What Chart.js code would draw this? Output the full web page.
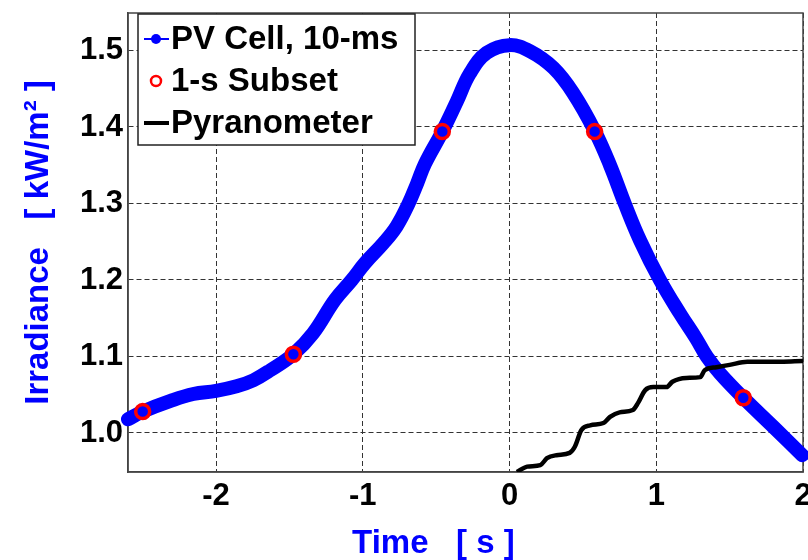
<!DOCTYPE html>
<html>
<head>
<meta charset="utf-8">
<script src="https://cdn.jsdelivr.net/npm/chart.js@4/dist/chart.umd.min.js"></script>
<style>
  html, body { margin: 0; padding: 0; background: #fff; }
  #wrap { width: 808px; height: 560px; }
</style>
</head>
<body>
<div id="wrap"><canvas id="chart" width="808" height="560"></canvas></div>
<script>
// PV cell, 10-ms samples
const pvTime = [-2.60, -2.50, -2.31, -2.155, -2.00, -1.86, -1.745, -1.63, -1.473, -1.34,
                -1.19, -1.075, -0.985, -0.86, -0.77, -0.69, -0.63, -0.576, -0.458, -0.36,
                -0.27, -0.155, 0.00, 0.14, 0.30, 0.435, 0.583, 0.685, 0.787, 0.889,
                1.025, 1.162, 1.27, 1.344, 1.434, 1.593, 1.798, 1.995];
const pvIrr  = [1.018, 1.028, 1.042, 1.051, 1.055, 1.061, 1.069, 1.082, 1.103, 1.130,
                1.174, 1.200, 1.222, 1.248, 1.270, 1.299, 1.326, 1.352, 1.394, 1.433,
                1.470, 1.497, 1.507, 1.499, 1.477, 1.444, 1.394, 1.350, 1.299, 1.252,
                1.200, 1.156, 1.124, 1.100, 1.078, 1.046, 1.008, 0.971];

// 1-s subset
const subsetTime = [-2.50, -1.473, -0.458, 0.58, 1.593];
const subsetIrr  = [1.028, 1.103, 1.394, 1.394, 1.046];

// pyranometer
const pyrTime = [0.05, 0.12, 0.21, 0.255, 0.32, 0.41, 0.445, 0.49, 0.55, 0.64,
                 0.685, 0.75, 0.84, 0.875, 0.925, 0.98, 1.07, 1.11, 1.205, 1.30,
                 1.33, 1.41, 1.50, 1.62, 1.755, 2.00];
const pyrIrr  = [0.949, 0.956, 0.958, 0.967, 0.971, 0.974, 0.982, 1.004, 1.010, 1.013,
                 1.021, 1.027, 1.030, 1.039, 1.056, 1.060, 1.060, 1.067, 1.072, 1.073,
                 1.082, 1.086, 1.089, 1.093, 1.093, 1.094];

const xTicks = [-2, -1, 0, 1, 2];
const yTicks = [1.0, 1.1, 1.2, 1.3, 1.4, 1.5];

const FONT = "'Liberation Sans', Arial, sans-serif";
const toPoints = (xs, ys) => xs.map((x, i) => ({x: x, y: ys[i]}));

// box round the axes (matlab "box on")
const frame = {
    id: 'frame',
    beforeDatasetsDraw(chart) {
        const {ctx, chartArea: a} = chart;
        ctx.save();
        ctx.strokeStyle = '#444';
        ctx.lineWidth = 1.5;
        ctx.strokeRect(a.left, a.top, a.right - a.left, a.bottom - a.top);
        ctx.restore();
    }
};

// legend inside the axes, white box with border
const boxLegend = {
    id: 'boxLegend',
    afterDatasetsDraw(chart) {
        const {ctx, chartArea: a} = chart;
        const left = a.left + 10, top = a.top + 1, w = 277, h = 131;
        ctx.save();
        ctx.fillStyle = '#fff';
        ctx.fillRect(left, top, w, h);
        ctx.strokeStyle = '#222';
        ctx.lineWidth = 1.5;
        ctx.strokeRect(left, top, w, h);
        ctx.font = 'bold 33px ' + FONT;
        ctx.textBaseline = 'middle';
        chart.data.datasets.forEach((ds, i) => {
            const y = top + 25 + i * 42;
            const cx = left + 18;
            ctx.strokeStyle = ds.borderColor;
            if (ds.showLine === false) {
                ctx.lineWidth = 2.5;
                ctx.beginPath();
                ctx.arc(cx, y, 5, 0, Math.PI * 2);
                ctx.stroke();
            } else {
                ctx.lineWidth = ds.legendWidth;
                ctx.beginPath();
                ctx.moveTo(left + 6, y);
                ctx.lineTo(left + 31, y);
                ctx.stroke();
                if (ds.legendDot) {
                    ctx.fillStyle = ds.borderColor;
                    ctx.beginPath();
                    ctx.arc(cx, y, 5, 0, Math.PI * 2);
                    ctx.fill();
                }
            }
            ctx.fillStyle = '#000';
            ctx.fillText(ds.label, left + 33, y + 1);
        });
        ctx.restore();
    }
};

const tickFont = {family: FONT, size: 31, weight: 'bold'};
const titleFont = {family: FONT, size: 33, weight: 'bold', lineHeight: 1};

new Chart(document.getElementById('chart'), {
    type: 'line',
    data: {
        datasets: [
            {
                label: 'PV Cell, 10-ms',
                data: toPoints(pvTime, pvIrr),
                borderColor: '#0000ff',
                borderWidth: 14,
                borderCapStyle: 'round',
                borderJoinStyle: 'round',
                tension: 0.4,
                pointRadius: 0,
                clip: false,
                order: 3,
                legendWidth: 2,
                legendDot: true
            },
            {
                label: '1-s Subset',
                data: toPoints(subsetTime, subsetIrr),
                showLine: false,
                borderColor: '#ff0000',
                pointBorderColor: '#ff0000',
                pointBackgroundColor: 'rgba(0,0,0,0)',
                pointRadius: 7,
                pointBorderWidth: 3.5,
                order: 2
            },
            {
                label: 'Pyranometer',
                data: toPoints(pyrTime, pyrIrr),
                borderColor: '#000000',
                borderWidth: 4.5,
                borderJoinStyle: 'round',
                cubicInterpolationMode: 'monotone',
                pointRadius: 0,
                order: 1,
                legendWidth: 4
            }
        ]
    },
    options: {
        responsive: false,
        animation: false,
        layout: {autoPadding: false, padding: {top: 13, right: 5, left: 0, bottom: 0}},
        plugins: {
            legend: {display: false},
            tooltip: {enabled: false}
        },
        scales: {
            x: {
                type: 'linear',
                min: -2.6,
                max: 2.0,
                afterBuildTicks: s => { s.ticks = xTicks.map(v => ({value: v})); },
                afterFit: s => { s.height = 88; s.paddingLeft = 0; s.paddingRight = 0; },
                grid: {color: '#333', lineWidth: 1, drawTicks: false},
                border: {display: true, color: '#444', width: 1.5, dash: [5, 3]},
                ticks: {
                    color: '#000', font: tickFont, padding: 6,
                    maxRotation: 0, autoSkip: false,
                    callback: v => String(v)
                },
                title: {
                    display: true, text: 'Time   [ s ]       ',
                    color: '#0000ff', font: titleFont, padding: 0
                }
            },
            y: {
                type: 'linear',
                min: 0.949,
                max: 1.549,
                afterBuildTicks: s => { s.ticks = yTicks.map(v => ({value: v})); },
                afterFit: s => { s.width = 128; s.paddingTop = 0; s.paddingBottom = 0; },
                grid: {color: '#333', lineWidth: 1, drawTicks: false},
                border: {display: true, color: '#444', width: 1.5, dash: [5, 3]},
                ticks: {
                    color: '#000', font: tickFont, padding: 5,
                    callback: v => v.toFixed(1)
                },
                title: {
                    display: true, text: 'Irradiance   [ kW/m\u00B2 ]',
                    color: '#0000ff', font: titleFont, padding: {top: 22, bottom: 0}
                }
            }
        }
    },
    plugins: [frame, boxLegend]
});
</script>
</body>
</html>
